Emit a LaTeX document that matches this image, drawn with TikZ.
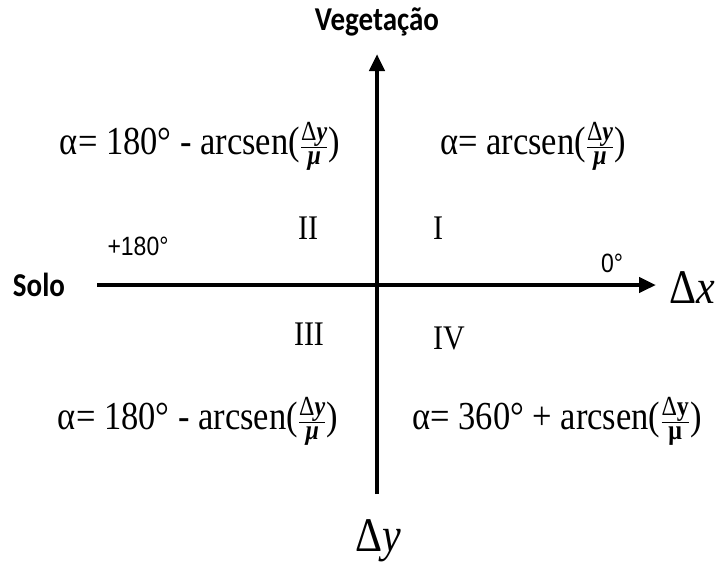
\documentclass[tikz,border=0pt]{standalone}
\usepackage{fontspec}
\setmainfont{Liberation Serif}
\newfontfamily\formfont{Liberation Serif}
\newfontfamily\labfont{Carlito}
\newfontfamily\arialfont{Liberation Sans}
\usetikzlibrary{arrows.meta}
\newcommand{\vst}[1]{\scalebox{1}[1.15]{#1}}
\tikzset{
  axis/.style={line width=4.5pt,-{Triangle[length=17pt,width=15pt]}},
  formula/.style={inner sep=0pt,font=\formfont\fontsize{34.5}{36}\selectfont},
  roman/.style={inner sep=0pt,font=\formfont\fontsize{30}{32}\selectfont},
  sidelab/.style={inner sep=0pt,font=\labfont\bfseries\fontsize{29}{31}\selectfont},
  deglab/.style={inner sep=0pt,font=\arialfont\fontsize{23}{26}\selectfont},
  axlab/.style={inner sep=0pt,font=\formfont\fontsize{42}{44}\selectfont}
}
\newcommand{\myfr}{$\frac{\hbox{\formfont\fontsize{24}{25}\selectfont Δ\textit{\bfseries y}}}{\hbox{\formfont\fontsize{24}{25}\selectfont\textit{\bfseries μ}}}$}
\newcommand{\myfru}{$\frac{\hbox{\formfont\fontsize{24}{25}\selectfont Δ\textbf{y}}}{\hbox{\formfont\fontsize{24}{25}\selectfont \textbf{μ}}}$}
\begin{document}
\begin{tikzpicture}[x=1pt,y=-1pt]
\useasboundingbox (0,0) rectangle (722,566);
\coordinate (xl) at (97,285);
\coordinate (xr) at (656,285);
\coordinate (yb) at (377,494);
\coordinate (yt) at (377,54);
\draw[axis] (xl) -- (xr);
\draw[axis] (yb) -- (yt);
\node[sidelab] (veg) at (377,22) {\vst{Vegetação}};
\node[sidelab] (solo) at (39,285) {\vst{Solo}};
\node[axlab] (dx) at (692,288) {\vst{Δ\textit{x}}};
\node[axlab] (dy) at (378,541) {\vst{Δ\textit{y}}};
\node[deglab] (d180) at (138,246) {\vst{+180°}};
\node[deglab] (d0) at (612,263) {\vst{0°}};
\node[roman] (q2) at (308,228) {\vst{II}};
\node[roman] (q1) at (438,228) {\vst{I}};
\node[roman] (q3) at (309,334) {\vst{III}};
\node[roman] (q4) at (449,338) {\vst{IV}};
\node[formula] (f2) at (200,146) {\vst{α= 180° - arcsen(\myfr)}};
\node[formula] (f1) at (533,146) {\vst{α= arcsen(\myfr)}};
\node[formula] (f3) at (198,421) {\vst{α= 180° - arcsen(\myfr)}};
\node[formula] (f4) at (557,421) {\vst{α= 360° + arcsen(\myfru)}};
\end{tikzpicture}
\end{document}
